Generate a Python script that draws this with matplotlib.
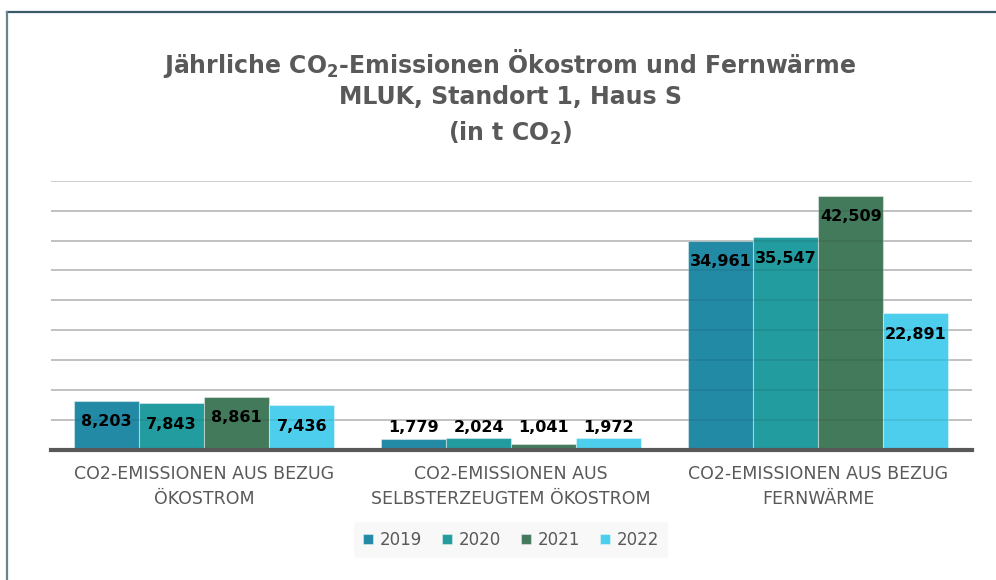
import matplotlib
matplotlib.use("Agg")
import matplotlib.pyplot as plt
import numpy as np
from matplotlib.lines import Line2D

plt.rcParams['mathtext.default'] = 'regular'

categories = ["CO2-EMISSIONEN AUS BEZUG\nÖKOSTROM",
              "CO2-EMISSIONEN AUS\nSELBSTERZEUGTEM ÖKOSTROM",
              "CO2-EMISSIONEN AUS BEZUG\nFERNWÄRME"]
years = ["2019", "2020", "2021", "2022"]
v2019 = [8.203, 1.779, 34.961]
v2020 = [7.843, 2.024, 35.547]
v2021 = [8.861, 1.041, 42.509]
v2022 = [7.436, 1.972, 22.891]
labels2019 = ["8,203", "1,779", "34,961"]
labels2020 = ["7,843", "2,024", "35,547"]
labels2021 = ["8,861", "1,041", "42,509"]
labels2022 = ["7,436", "1,972", "22,891"]
colors = ["#238AA6", "#239C9F", "#437A5C", "#4CCEEC"]

series = [v2019, v2020, v2021, v2022]
series_labels = [labels2019, labels2020, labels2021, labels2022]

W, H = 996, 580
fig = plt.figure(figsize=(W / 100, H / 100), dpi=100)
ax = fig.add_axes([50.7 / W, 1 - 450 / H, (971.7 - 50.7) / W, (450 - 180.7) / H])

x = np.arange(len(categories))
bw = 0.212
offsets = (np.arange(4) - 1.5) * bw
ymax = 45
px_per_unit = (450 - 180.7) / ymax
for i, (vals, labs) in enumerate(zip(series, series_labels)):
    ax.bar(x + offsets[i], vals, width=bw, color=colors[i],
           edgecolor=(1, 1, 1, 0.4), linewidth=0.8, zorder=2, label=years[i])
    for xi, v, lab in zip(x + offsets[i], vals, labs):
        y = max(v - 21 / px_per_unit, 22 / px_per_unit)
        ax.text(xi, y, lab, ha="center", va="center", fontsize=11.5,
                fontweight="bold", color="black", zorder=4)

ax.set_xlim(-0.5, 2.5)
ax.set_ylim(0, ymax)
ax.set_yticks(np.arange(0, ymax + 1, 5))
ax.yaxis.grid(True, color="#d0d0d0", linewidth=1.4, zorder=0)
ax.set_axisbelow(True)
# faint gridline shadows visible through the bars
for yv in np.arange(5, ymax, 5):
    ax.axhline(yv, color="black", alpha=0.07, linewidth=1.4, zorder=2.5)
ax.tick_params(axis="y", left=False, labelleft=False)
ax.set_xticks(x)
ax.set_xticklabels(categories, fontsize=12.5, color="#595959", linespacing=1.5)
ax.tick_params(axis="x", length=0, pad=11)
for s in ["top", "right", "left"]:
    ax.spines[s].set_visible(False)
ax.spines["bottom"].set_color("#595959")
ax.spines["bottom"].set_linewidth(3)
ax.spines["bottom"].set_zorder(3)

title_kw = dict(ha="center", va="center", fontsize=17, fontweight="bold",
                color="#595959")
fig.text(510 / W, 1 - 64 / H, "Jährliche CO$_2$-Emissionen Ökostrom und Fernwärme", **title_kw)
fig.text(510 / W, 1 - 97 / H, "MLUK, Standort 1, Haus S", **title_kw)
fig.text(510 / W, 1 - 133 / H, "(in t CO$_2$)", **title_kw)

leg = fig.legend(loc="center", bbox_to_anchor=(511 / W, 1 - 540 / H), ncol=4,
                 frameon=True, fontsize=12, handlelength=0.6, handleheight=0.6,
                 handletextpad=0.4, columnspacing=1.2, borderpad=0.55)
leg.get_frame().set_facecolor("#f7f7f7")
leg.get_frame().set_edgecolor("none")
for t in leg.get_texts():
    t.set_color("#595959")

fig.add_artist(Line2D([7 / W, 1], [1 - 12 / H, 1 - 12 / H], color="#3B5A68", linewidth=1.6))
fig.add_artist(Line2D([7 / W, 7 / W], [0, 1 - 12 / H], color="#6B8590", linewidth=1.6))

fig.savefig("out.png", dpi=100)
